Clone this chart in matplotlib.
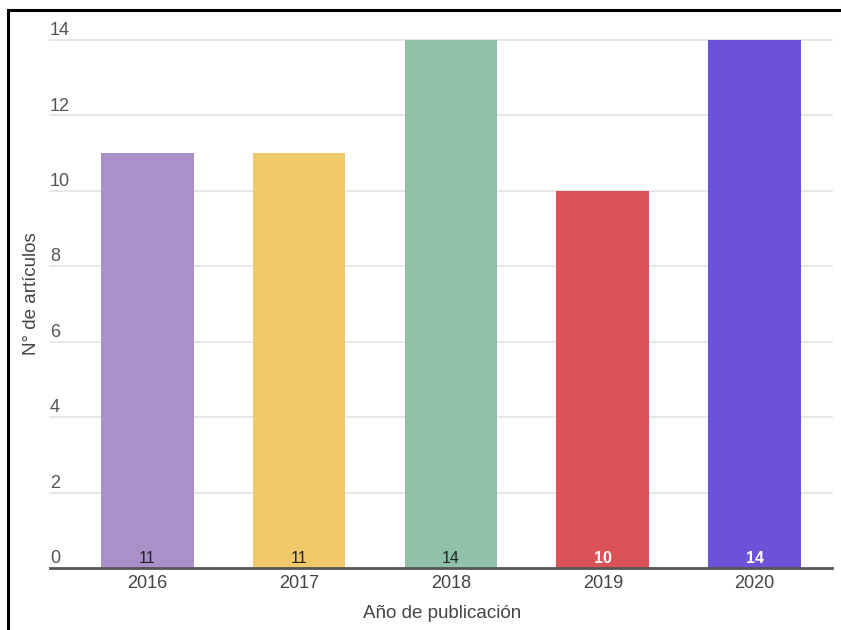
import matplotlib
matplotlib.use("Agg")
import matplotlib.pyplot as plt
from matplotlib.transforms import blended_transform_factory
from matplotlib.lines import Line2D

years = ["2016", "2017", "2018", "2019", "2020"]
values = [11, 11, 14, 10, 14]
colors = ["#A990C8", "#EFC96A", "#8FC2A8", "#DB5356", "#6C52D9"]
label_colors = ["#222222", "#222222", "#222222", "#FFFFFF", "#FFFFFF"]
label_weights = ["normal", "normal", "normal", "bold", "bold"]
yticks = [0, 2, 4, 6, 8, 10, 12, 14]

W, H = 841, 630
fig = plt.figure(figsize=(W / 100, H / 100), dpi=100)
plt.rcParams['font.family'] = ['Arial', 'Liberation Sans', 'DejaVu Sans']

left, right, bottom, top = 50, 832, 568, 40
ax = fig.add_axes([left / W, 1 - bottom / H, (right - left) / W, (bottom - top) / H])

x = list(range(len(years)))
ax.bar(x, values, width=0.61, color=colors, zorder=2)
ax.set_xlim(-0.641, 4.51)
ax.set_ylim(0, 14)

for s in ax.spines.values():
    s.set_visible(False)

# gridlines
for t in yticks[1:]:
    ax.axhline(t, color="#E3E3E3", lw=1.2, zorder=1, clip_on=False)
ax.axhline(0, color="#555555", lw=2.0, zorder=3, clip_on=False)

# y tick labels drawn inside, above gridlines
trans = blended_transform_factory(ax.transAxes, ax.transData)
for t in yticks:
    ax.text(0.0, t + 0.13, str(t), transform=trans, ha="left", va="baseline",
            fontsize=13, color="#555555")
ax.set_yticks([])

ax.set_xticks(x)
ax.set_xticklabels(years, fontsize=13, color="#444444")
ax.tick_params(axis="x", length=0, pad=5)

# data labels
for xi, v, c, w in zip(x, values, label_colors, label_weights):
    ax.text(xi, 0.13, str(v), ha="center", va="baseline", fontsize=11.5,
            color=c, fontweight=w, zorder=4)

fig.text(442 / W, 1 - 613 / H, "Año de publicación", ha="center", va="center",
         fontsize=13.5, color="#444444")
fig.text(32 / W, 1 - 294 / H, "N° de artículos", ha="center", va="center",
         rotation=90, fontsize=13.5, color="#444444")

# frame lines (left and top)
fig.add_artist(Line2D([7.5 / W, 7.5 / W], [0, 1 - 9.5 / H], color="black", lw=2.2,
                      transform=fig.transFigure))
fig.add_artist(Line2D([7.5 / W, 1], [1 - 9.5 / H, 1 - 9.5 / H], color="black", lw=2.2,
                      transform=fig.transFigure))

fig.savefig("out.png", dpi=100)
